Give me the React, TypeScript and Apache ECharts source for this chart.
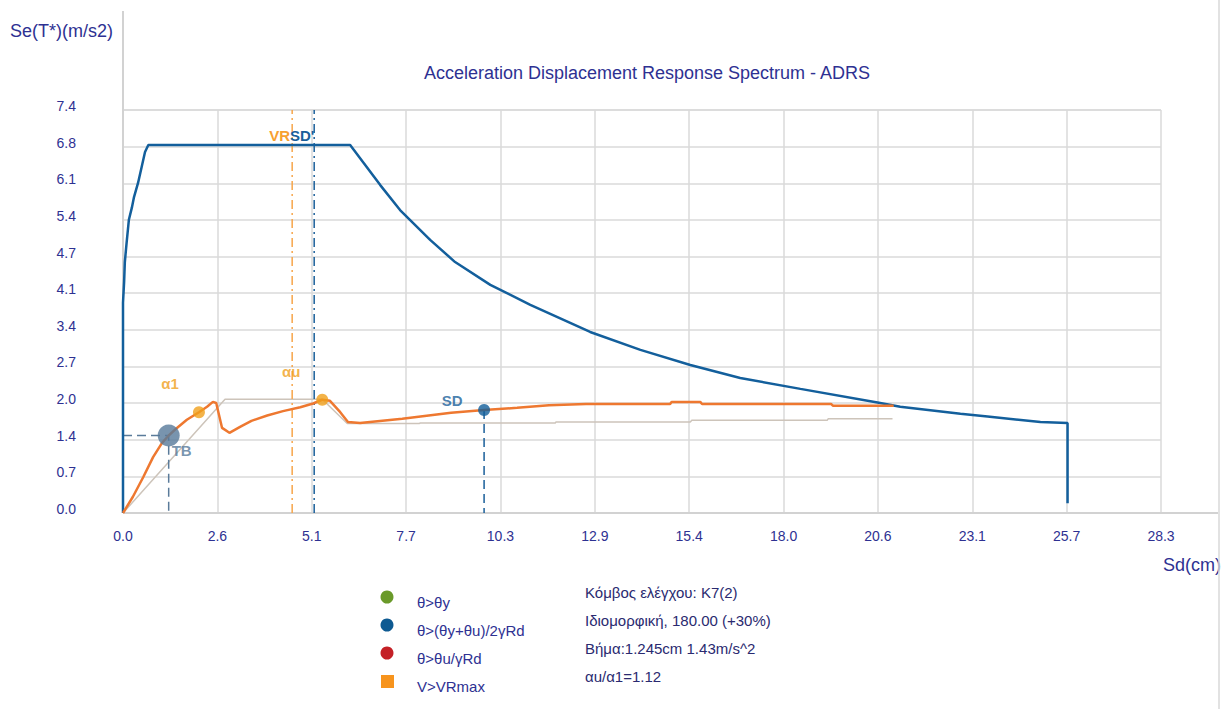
import React, { useEffect, useRef } from "react";
import * as echarts from "echarts";

// ---- axis ticks ----
const X_STEP = 2.5715;
const X_TICKS = 11;
const Y_STEP = 0.676;
const Y_TICKS = 11;

// ---- demand spectrum (ADRS) ----
const demandSd = [0, 0, 0.03, 0.05, 0.10, 0.16, 0.24, 0.30, 0.41, 0.51, 0.60, 0.69, 6.19, 7.01, 7.55, 8.37, 9.05, 10.01, 11.10, 12.73, 14.10, 15.46, 16.82, 18.46, 20.56, 21.18, 22.82, 23.56, 25.0, 25.74, 25.74];
const demandSe = [0, 3.88, 4.26, 4.63, 5.00, 5.41, 5.63, 5.83, 6.09, 6.39, 6.66, 6.79, 6.79, 6.05, 5.59, 5.04, 4.63, 4.21, 3.84, 3.34, 3.01, 2.73, 2.49, 2.29, 2.04, 1.96, 1.83, 1.78, 1.68, 1.66, 0.18];

// ---- capacity curve ----
const capSd = [0, 0.27, 0.55, 0.82, 1.06, 1.245, 1.47, 1.74, 2.07, 2.29, 2.45, 2.54, 2.70, 2.90, 3.19, 3.50, 3.93, 4.36, 4.83, 5.18, 5.43, 5.64, 5.92, 6.13, 6.46, 7.61, 8.94, 9.84, 10.74, 11.61, 12.62, 14.91, 14.95, 15.73, 15.78, 19.30, 19.35, 21.0];
const capSe = [0, 0.30, 0.66, 1.03, 1.29, 1.43, 1.57, 1.72, 1.86, 1.96, 2.05, 2.03, 1.57, 1.48, 1.59, 1.70, 1.80, 1.88, 1.95, 2.02, 2.09, 2.07, 1.86, 1.68, 1.66, 1.74, 1.85, 1.90, 1.94, 1.99, 2.01, 2.01, 2.05, 2.05, 2.01, 2.01, 1.98, 1.98];

// ---- idealized (bilinear) curve ----
const idealSd = [0, 2.78, 5.43, 6.11, 8.07, 8.10, 11.78, 11.80, 15.46, 15.50, 19.19, 19.22, 20.97];
const idealSe = [0, 2.10, 2.10, 1.65, 1.65, 1.66, 1.66, 1.68, 1.68, 1.71, 1.71, 1.74, 1.74];

// ---- points ----
const tbPoint = [1.245, 1.43];
const a1Point = [2.07, 1.86];
const auPoint = [5.43, 2.09];
const sdPoint = [9.84, 1.90];
const vrSd = 4.61;
const sdPrimeSd = 5.21;

// ---- texts ----
const titleText = "Acceleration Displacement Response Spectrum - ADRS";
const yName = "Se(T*)(m/s2)";
const xName = "Sd(cm)";
const legendItems = [
  { name: "θ>θy", color: "#6a9a2a", shape: "circle" },
  { name: "θ>(θy+θu)/2γRd", color: "#0e5a92", shape: "circle" },
  { name: "θ>θu/γRd", color: "#c42026", shape: "circle" },
  { name: "V>VRmax", color: "#f7941d", shape: "square" },
];
const infoLines = [
  "Κόμβος ελέγχου: K7(2)",
  "Ιδιομορφική, 180.00 (+30%)",
  "Βήμα:1.245cm 1.43m/s^2",
  "αu/α1=1.12",
];

const zip = (a: number[], b: number[]) => a.map((v, i) => [v, b[i]]);

const FONT = "Liberation Sans";
const TXT = "#2e3192";

export default function App() {
  const ref = useRef<HTMLDivElement>(null);
  useEffect(() => {
    if (!ref.current) return;
    const chart = echarts.init(ref.current, null, { renderer: "svg" });
    const yMax = Y_STEP * Y_TICKS;
    const xMax = X_STEP * X_TICKS;

    const graphics: any[] = [
      { type: "line", shape: { x1: 123, y1: 11, x2: 123, y2: 513 }, style: { stroke: "#d2d2d2", lineWidth: 2 }, z: 1 },
      { type: "line", shape: { x1: 123, y1: 513, x2: 1218, y2: 513 }, style: { stroke: "#d2d2d2", lineWidth: 2 }, z: 1 },
      { type: "line", shape: { x1: 1219, y1: 0, x2: 1219, y2: 709 }, style: { stroke: "#d8d8d8", lineWidth: 1.5 }, z: 1 },
      { type: "text", x: 10, y: 31, style: { text: yName, fill: TXT, font: `18px '${FONT}'`, textVerticalAlign: "middle" } },
      { type: "text", x: 1163, y: 565, style: { text: xName, fill: TXT, font: `18px '${FONT}'`, textVerticalAlign: "middle" } },
      { type: "text", x: 290, y: 135, style: { text: "VR", fill: "#f7a030", font: `bold 15px '${FONT}'`, textAlign: "right", textVerticalAlign: "middle" }, z: 10 },
      { type: "text", x: 290, y: 135, style: { text: "SD'", fill: "#1a5f9a", font: `bold 15px '${FONT}'`, textAlign: "left", textVerticalAlign: "middle" }, z: 10 },
    ];
    legendItems.forEach((it, i) => {
      const cy = 597 + i * 28;
      if (it.shape === "circle") {
        graphics.push({ type: "circle", shape: { cx: 387, cy, r: 6.5 }, style: { fill: it.color } });
      } else {
        graphics.push({ type: "rect", shape: { x: 381, y: cy - 6, width: 13, height: 13 }, style: { fill: it.color } });
      }
      graphics.push({ type: "text", x: 417, y: cy + 5, style: { text: it.name, fill: TXT, font: `15px '${FONT}'`, textVerticalAlign: "middle" } });
    });
    infoLines.forEach((t, i) => {
      graphics.push({ type: "text", x: 585, y: 592 + i * 28.3, style: { text: t, fill: "#2a2a70", font: `15px '${FONT}'`, textVerticalAlign: "middle" } });
    });

    const dot = (name: string, p: number[], color: string, size: number, label: string, offset: number[], labelColor: string) => ({
      type: "scatter",
      name,
      data: [p],
      symbol: "circle",
      symbolSize: size,
      itemStyle: { color },
      z: 6,
      label: {
        show: true,
        formatter: label,
        position: "inside",
        offset,
        color: labelColor,
        fontFamily: FONT,
        fontWeight: "bold",
        fontSize: 15,
      },
    });

    chart.setOption({
      animation: false,
      title: {
        text: titleText,
        left: 642,
        top: 59,
        textAlign: "center",
        textStyle: { color: TXT, fontFamily: FONT, fontWeight: "normal", fontSize: 18 },
      },
      grid: { left: 123, top: 110, width: 1038, height: 403, containLabel: false },
      xAxis: {
        type: "value",
        min: 0,
        max: xMax,
        interval: X_STEP,
        axisLine: { show: false },
        axisTick: { show: false },
        axisLabel: { color: TXT, fontFamily: FONT, fontSize: 14, margin: 16, formatter: (v: number) => v.toFixed(1), showMaxLabel: true },
        splitLine: { show: true, lineStyle: { color: "#dadada", width: 1.5 } },
      },
      yAxis: {
        type: "value",
        min: 0,
        max: yMax,
        interval: Y_STEP,
        axisLine: { show: false },
        axisTick: { show: false },
        axisLabel: { color: TXT, fontFamily: FONT, fontSize: 14, margin: 47, verticalAlign: "bottom", lineHeight: 8, formatter: (v: number) => v.toFixed(1), showMaxLabel: true },
        splitLine: { show: true, lineStyle: { color: "#dadada", width: 1.5 } },
      },
      graphic: graphics,
      series: [
        {
          type: "line", name: "ideal", data: zip(idealSd, idealSe), showSymbol: false, symbol: "none",
          lineStyle: { color: "#cdc4ba", width: 1.5 }, z: 2,
        },
        {
          type: "line", name: "VR", data: [[vrSd, 0], [vrSd, yMax]], symbol: "none",
          lineStyle: { color: "#f7a54a", width: 1.5, type: [9, 4, 2, 4] }, z: 2,
        },
        {
          type: "line", name: "SDp", data: [[sdPrimeSd, 0], [sdPrimeSd, yMax]], symbol: "none",
          lineStyle: { color: "#1a5f9a", width: 1.5, type: [9, 4, 2, 4] }, z: 2,
        },
        {
          type: "line", name: "TBlines", data: [[0, tbPoint[1]], tbPoint, [tbPoint[0], 0]], symbol: "none",
          lineStyle: { color: "#5a7b9a", width: 1.5, type: [9, 5] }, z: 2,
        },
        {
          type: "line", name: "SDline", data: [sdPoint, [sdPoint[0], 0]], symbol: "none",
          lineStyle: { color: "#1a5f9a", width: 1.5, type: [9, 5] }, z: 2,
        },
        {
          type: "line", name: "demand", data: zip(demandSd, demandSe), symbol: "none",
          lineStyle: { color: "#135f9c", width: 2.5 }, z: 3,
        },
        {
          type: "line", name: "capacity", data: zip(capSd, capSe), symbol: "none",
          lineStyle: { color: "#ee7830", width: 2.5 }, z: 4,
        },
        dot("TB", tbPoint, "#56799a", 22, "TB", [13, 15], "#56799a"),
        dot("a1", a1Point, "#f0a01c", 12, "α1", [-29, -29], "#f0a01c"),
        dot("au", auPoint, "#f0a01c", 12, "αu", [-31, -28], "#f0a01c"),
        dot("SD", sdPoint, "#115e9a", 12, "SD", [-32, -10], "#1a5f9a"),
      ],
    });
    return () => chart.dispose();
  }, []);
  return <div ref={ref} style={{ position: "absolute", left: 0, top: 0, width: 1222, height: 709 }} />;
}
